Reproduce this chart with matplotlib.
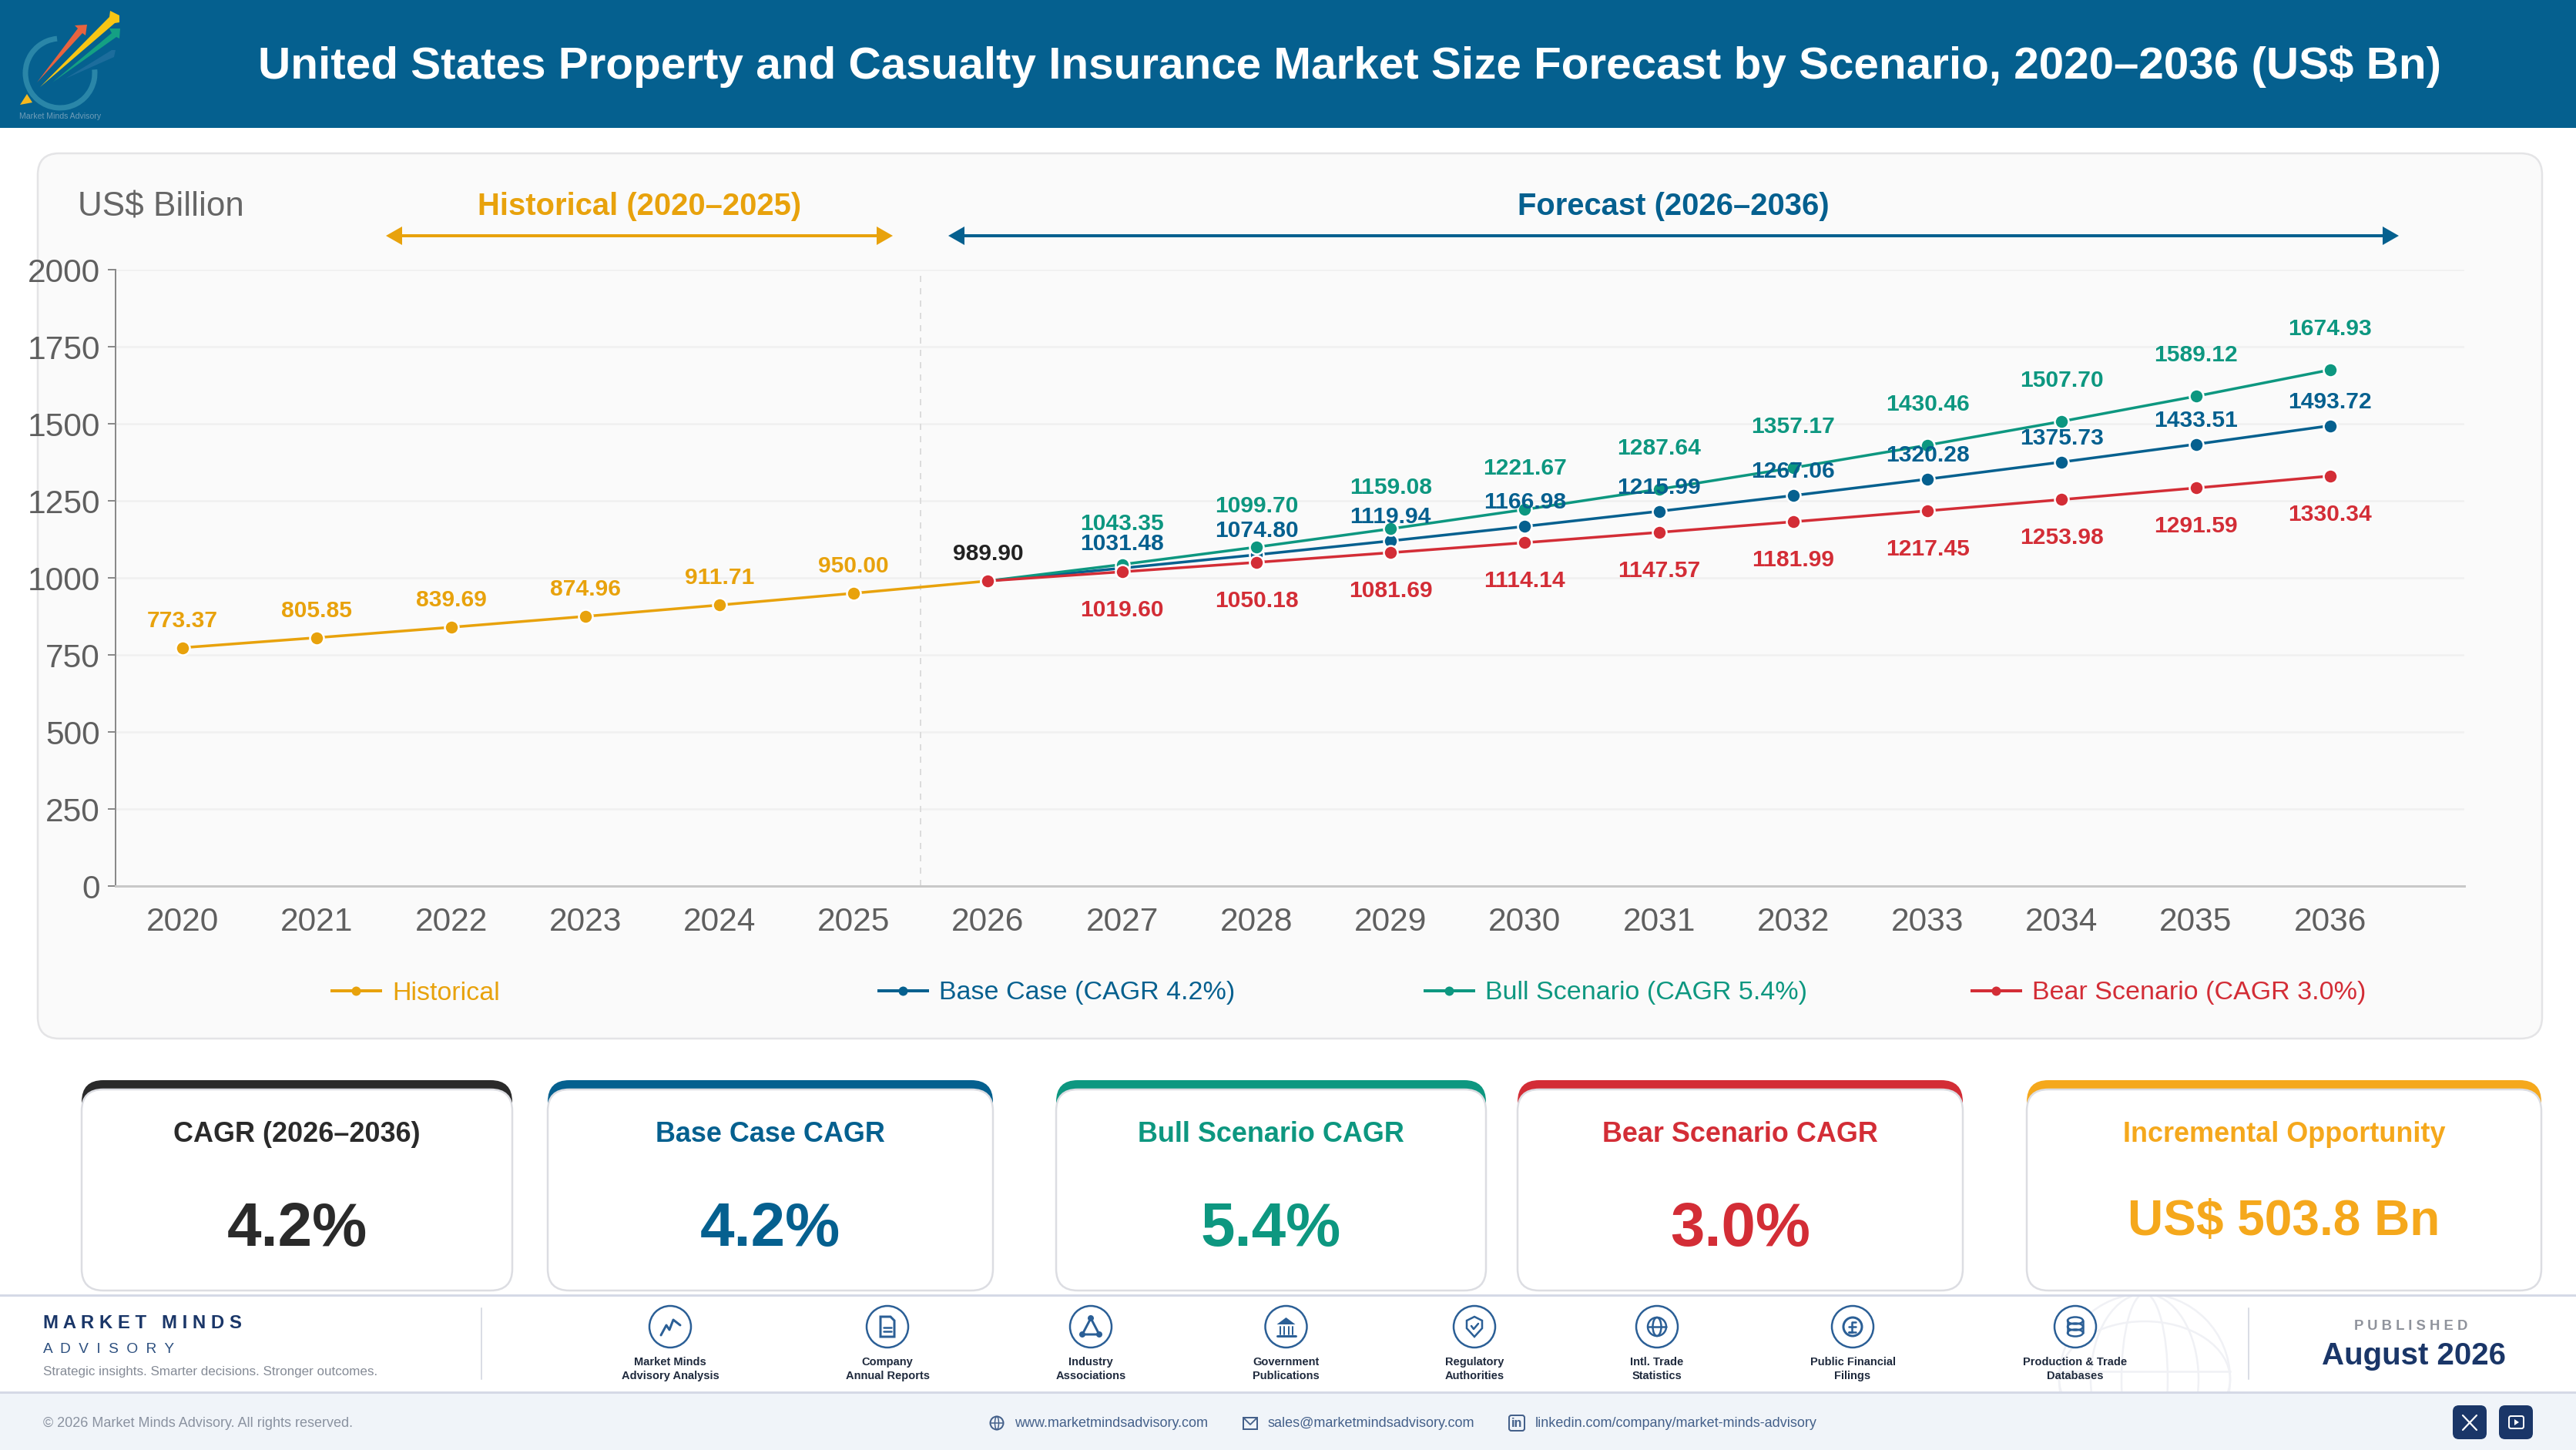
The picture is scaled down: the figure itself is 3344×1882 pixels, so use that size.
import matplotlib
matplotlib.use("Agg")
import matplotlib.pyplot as plt
from matplotlib.patches import FancyBboxPatch, Rectangle, Circle, Polygon, Ellipse, Arc
from matplotlib.lines import Line2D

# ---------- data ----------
years = list(range(2020, 2037))
hist_years = [2020, 2021, 2022, 2023, 2024, 2025, 2026]
hist_values = [773.37, 805.85, 839.69, 874.96, 911.71, 950.00, 989.90]
fc_years = list(range(2026, 2037))
base_values = [989.90, 1031.48, 1074.80, 1119.94, 1166.98, 1215.99, 1267.06, 1320.28, 1375.73, 1433.51, 1493.72]
bull_values = [989.90, 1043.35, 1099.70, 1159.08, 1221.67, 1287.64, 1357.17, 1430.46, 1507.70, 1589.12, 1674.93]
bear_values = [989.90, 1019.60, 1050.18, 1081.69, 1114.14, 1147.57, 1181.99, 1217.45, 1253.98, 1291.59, 1330.34]
y_ticks = [0, 250, 500, 750, 1000, 1250, 1500, 1750, 2000]
legend_labels = ["Historical", "Base Case (CAGR 4.2%)", "Bull Scenario (CAGR 5.4%)", "Bear Scenario (CAGR 3.0%)"]
card_titles = ["CAGR (2026–2036)", "Base Case CAGR", "Bull Scenario CAGR", "Bear Scenario CAGR", "Incremental Opportunity"]
card_values = ["4.2%", "4.2%", "5.4%", "3.0%", "US$ 503.8 Bn"]
source_labels = ["Market Minds\nAdvisory Analysis", "Company\nAnnual Reports", "Industry\nAssociations",
                 "Government\nPublications", "Regulatory\nAuthorities", "Intl. Trade\nStatistics",
                 "Public Financial\nFilings", "Production & Trade\nDatabases"]

# ---------- style ----------
W, H = 3344, 1882
BLUE, GREEN, RED, GOLD = "#05608f", "#0d9780", "#d32d36", "#e8a20c"
CARD_GOLD = "#f5a81c"
NAVY = "#1a3668"
ICON = "#2b5f96"
plt.rcParams["font.family"] = ["Liberation Sans", "DejaVu Sans"]
DPI = 100
def px(p):
    return p * 72 / DPI

fig = plt.figure(figsize=(W / DPI, H / DPI), dpi=DPI, facecolor="white")
bg = fig.add_axes([0, 0, 1, 1], zorder=0)
bg.set_xlim(0, W); bg.set_ylim(H, 0); bg.axis("off")

def rrect(x0, y0, x1, y1, r, fc, ec="none", lw=0, z=1, a=None):
    p = FancyBboxPatch((x0 + r, y0 + r), x1 - x0 - 2 * r, y1 - y0 - 2 * r,
                       boxstyle=f"round,pad={r},rounding_size={r}", fc=fc, ec=ec, lw=lw, zorder=z, alpha=a)
    bg.add_patch(p)
    return p

def txt(x, y, s, size, color, weight="normal", ha="center", va="center", z=5, **kw):
    return bg.text(x, y, s, fontsize=px(size), color=color, fontweight=weight, ha=ha, va=va, zorder=z, **kw)

# header
bg.add_patch(Rectangle((0, 0), W, 166, fc=BLUE, ec="none", zorder=1))
txt(1752, 86, "United States Property and Casualty Insurance Market Size Forecast by Scenario, 2020–2036 (US$ Bn)",
    58.4, "white", "bold")

# logo
bg.add_patch(Arc((78, 95), 90, 90, theta1=-6, theta2=265, ec="#2a86a8", lw=px(7), zorder=2))
bg.add_patch(Polygon([[85, 102], [145, 65], [150, 65], [148, 74]], fc="#1c6d9c", ec="none", zorder=3))
bg.add_patch(Polygon([[68, 107], [145, 43], [142, 37], [156, 37], [155, 50], [151, 48]], fc="#14a083", ec="none", zorder=3))
bg.add_patch(Polygon([[48, 107], [101, 37], [97, 33], [113, 32], [111, 46], [107, 43]], fc="#e8633f", ec="none", zorder=4))
bg.add_patch(Polygon([[52, 113], [142, 22], [143, 14], [155, 20], [155, 29], [149, 30]], fc="#f8c614", ec="none", zorder=4))
bg.add_patch(Polygon([[35, 122], [26, 136], [42, 133]], fc="#f5b81e", ec="none", zorder=4))
txt(78, 151, "Market Minds Advisory", 10.5, "#6f9db8")

# chart panel
rrect(49, 199, 3300, 1348, 28, "#fafafa", "#e4e4e6", px(2.5), z=1)
txt(101, 269, "US$ Billion", 44, "#666666", ha="left")
txt(830, 268, "Historical (2020–2025)", 40, GOLD, "bold")
txt(2172, 268, "Forecast (2026–2036)", 40, BLUE, "bold")
for x0, x1, c in [(501, 1159, GOLD), (1231, 3114, BLUE)]:
    bg.add_line(Line2D([x0 + 10, x1 - 10], [306, 306], color=c, lw=px(4), zorder=3))
    bg.add_patch(Polygon([[x0, 306], [x0 + 21, 294], [x0 + 21, 318]], fc=c, ec="none", zorder=3))
    bg.add_patch(Polygon([[x1, 306], [x1 - 21, 294], [x1 - 21, 318]], fc=c, ec="none", zorder=3))

# chart
ax = fig.add_axes([150 / W, 1 - 1150 / H, (3199 - 150) / W, 800 / H], zorder=1)
ax.patch.set_visible(False)
ax.set_xlim(2019.5, 2037)
ax.set_ylim(0, 2000)
ax.set_xticks(years)
ax.set_xticklabels([str(y) for y in years])
ax.set_yticks(y_ticks)
ax.tick_params(axis="x", length=0, pad=px(27), labelsize=px(42.5), labelcolor="#5f5f5f")
ax.tick_params(axis="y", length=px(10), width=px(2), color="#8a8a8a", pad=px(10), labelsize=px(42.5), labelcolor="#5f5f5f")
ax.grid(axis="y", color="#f0f0f0", lw=px(2.5), zorder=0)
ax.set_axisbelow(True)
for s in ("top", "right"):
    ax.spines[s].set_visible(False)
ax.spines["left"].set_color("#8a8a8a"); ax.spines["left"].set_linewidth(px(2))
ax.spines["bottom"].set_color("#c8c8c8"); ax.spines["bottom"].set_linewidth(px(3))
ax.axvline(2025.5, color="#dcdcdc", lw=px(2), ls=(0, (4, 4)), zorder=1)

def series(xs, ys, c, z):
    return ax.plot(xs, ys, color=c, lw=px(3.5), marker="o", ms=px(18), mec="white", mew=px(2.5), zorder=z)[0]

series(hist_years, hist_values, GOLD, 3)
series(fc_years, base_values, BLUE, 4)
series(fc_years, bull_values, GREEN, 5)
series(fc_years, bear_values, RED, 6)

def labels(xs, ys, c, off, colors=None):
    for i, (x, y) in enumerate(zip(xs, ys)):
        ax.annotate(f"{y:.2f}", (x, y), xytext=(0, -px(off)), textcoords="offset points", ha="center", va="center",
                    fontsize=px(30), fontweight="bold", color=colors[i] if colors else c, zorder=8)

labels(hist_years, hist_values, GOLD, -35, [GOLD] * 6 + ["#222222"])
labels(fc_years[1:], base_values[1:], BLUE, -31)
labels(fc_years[1:], bull_values[1:], GREEN, -53)
labels(fc_years[1:], bear_values[1:], RED, 50)

# legend (one entry per evenly spaced slot)
for lab, c, x in zip(legend_labels, [GOLD, BLUE, GREEN, RED], [431, 1141, 1850, 2560]):
    h = Line2D([], [], color=c, lw=px(4), marker="o", ms=px(12), mew=0)
    fig.legend([h], [lab], loc="center left", bbox_to_anchor=(x / W, 1 - 1289 / H), frameon=False,
               labelcolor=c, fontsize=px(34), handlelength=1.85, handletextpad=0.45, borderpad=0, borderaxespad=0)

# KPI cards
cards = [(106, 665, "#2a2a2a"), (711, 1289, BLUE), (1371, 1929, GREEN), (1970, 2548, RED), (2631, 3299, CARD_GOLD)]
for (x0, x1, c), t, v in zip(cards, card_titles, card_values):
    y0, y1 = 1402, 1675
    rrect(x0, y0, x1, y0 + 120, 28, c, z=2)
    rrect(x0, y0 + 12, x1, y1, 28, "white", "#dcdde2", px(2.5), z=3)
    cx = (x0 + x1) / 2
    txt(cx, 1473, t, 36, c, "bold")
    if len(v) > 5:
        txt(cx, 1586, v, 64, c, "bold")
    else:
        txt(cx, 1596, v, 80, c, "bold")

# footer
bg.add_patch(Rectangle((0, 1681), W, 126, fc="white", ec="none", zorder=1))
bg.add_patch(Rectangle((0, 1807), W, 75, fc="#f0f4f9", ec="none", zorder=1))
clip = Rectangle((2600, 1682), 400, 124, transform=bg.transData)
for e in [Ellipse((2784, 1790), 222, 222), Ellipse((2784, 1790), 140, 222), Ellipse((2784, 1790), 60, 222),
          Ellipse((2784, 1790), 222, 150)]:
    e.set(fc="none", ec="#f0f1f5", lw=px(2.5), zorder=2)
    bg.add_patch(e); e.set_clip_path(clip)
bg.add_line(Line2D([2673, 2895], [1780, 1780], color="#f0f1f5", lw=px(2.5), zorder=2))
for y in (1681, 1807):
    bg.add_line(Line2D([0, W], [y, y], color="#d5d9e6", lw=px(3), zorder=3))
for x in (625, 2919):
    bg.add_line(Line2D([x, x], [1698, 1790], color="#cfd3dd", lw=px(1.5), zorder=3))

txt(56, 1718, "M A R K E T   M I N D S", 24, NAVY, "bold", ha="left")
txt(56, 1751, "A  D  V  I  S  O  R  Y", 19, "#2c4f7f", ha="left")
txt(56, 1780, "Strategic insights. Smarter decisions. Stronger outcomes.", 17, "#858b96", ha="left")
txt(56, 1847, "© 2026 Market Minds Advisory. All rights reserved.", 18, "#8a92a0", ha="left")
txt(3130, 1721, "P U B L I S H E D", 18.5, "#8f939c", "bold")
txt(3133, 1760, "August 2026", 40.2, NAVY, "bold")

def ln(xs, ys, lw=3, c=ICON, z=6):
    bg.add_line(Line2D(xs, ys, color=c, lw=px(lw), zorder=z, solid_capstyle="round", solid_joinstyle="round"))

def draw_icon(i, x, y):
    if i == 0:
        ln([x - 12, x - 5, x - 1, x + 4, x + 13], [y + 11, y - 2, y + 4, y - 9, y - 2])
    elif i == 1:
        bg.add_patch(Polygon([[x - 9, y - 13], [x + 4, y - 13], [x + 9, y - 8], [x + 9, y + 13], [x - 9, y + 13]],
                             fc="none", ec=ICON, lw=px(3), zorder=6))
        ln([x - 5, x + 5], [y + 1, y + 1], 2.5); ln([x - 5, x + 5], [y + 6, y + 6], 2.5)
    elif i == 2:
        bg.add_patch(Polygon([[x, y - 11], [x - 11, y + 10], [x + 11, y + 10]], fc="none", ec=ICON, lw=px(3), zorder=6))
        for a, b in [(x, y - 11), (x - 11, y + 10), (x + 11, y + 10)]:
            bg.add_patch(Circle((a, b), 4, fc=ICON, ec="none", zorder=7))
    elif i == 3:
        bg.add_patch(Polygon([[x, y - 12], [x - 12, y - 3], [x + 12, y - 3]], fc=ICON, ec="none", zorder=6))
        for d in (-8, -3, 3, 8):
            ln([x + d, x + d], [y, y + 10], 2)
        ln([x - 12, x + 12], [y + 12, y + 12], 3)
    elif i == 4:
        bg.add_patch(Polygon([[x, y - 13], [x + 10, y - 8], [x + 10, y + 2], [x, y + 13], [x - 10, y + 2], [x - 10, y - 8]],
                             fc="none", ec=ICON, lw=px(2.5), zorder=6))
        ln([x - 4, x - 1, x + 5], [y - 1, y + 3, y - 4], 2.5)
    elif i == 5:
        bg.add_patch(Circle((x, y), 12, fc="none", ec=ICON, lw=px(2.5), zorder=6))
        bg.add_patch(Ellipse((x, y), 11, 24, fc="none", ec=ICON, lw=px(2.5), zorder=6))
        ln([x - 12, x + 12], [y, y], 2.5)
    elif i == 6:
        bg.add_patch(Circle((x, y), 12, fc="none", ec=ICON, lw=px(3), zorder=6))
        ln([x + 4, x - 1, x - 1, x - 5, x + 4], [y - 6, y - 6, y + 7, y + 7, y + 7], 2.5)
        ln([x - 5, x + 4], [y, y], 2.5)
    else:
        for d in (-8, 0, 8):
            bg.add_patch(Ellipse((x, y + d), 20, 9, fc="none", ec=ICON, lw=px(2.5), zorder=6))
        ln([x - 10, x - 10], [y - 8, y + 8], 2.5); ln([x + 10, x + 10], [y - 8, y + 8], 2.5)

icon_x = [870, 1152, 1416, 1669.5, 1914, 2151, 2405, 2694]
for i, (x, lab) in enumerate(zip(icon_x, source_labels)):
    bg.add_patch(Circle((x, 1722), 27, fc="white", ec=ICON, lw=px(2.5), zorder=5))
    draw_icon(i, x, 1722)
    a, b = lab.split("\n")
    txt(x, 1768, a, 14.6, "#1f2a3d", "bold", z=6)
    txt(x, 1786, b, 14.6, "#1f2a3d", "bold", z=6)

# contacts
CT = "#44608a"
txt(1317, 1848, "www.marketmindsadvisory.com", 18, CT, ha="left")
txt(1646, 1848, "sales@marketmindsadvisory.com", 18, CT, ha="left")
txt(1993, 1848, "linkedin.com/company/market-minds-advisory", 18, CT, ha="left")
bg.add_patch(Circle((1294, 1847), 8.5, fc="none", ec=CT, lw=px(2), zorder=5))
bg.add_patch(Ellipse((1294, 1847), 5, 17, fc="none", ec=CT, lw=px(1.5), zorder=5))
ln([1286, 1302], [1847, 1847], 1.5, CT)
bg.add_patch(Rectangle((1614, 1840), 18, 15, fc="none", ec=CT, lw=px(2), zorder=5))
ln([1614, 1623, 1632], [1840, 1849, 1840], 1.8, CT)
rrect(1959, 1837, 1979, 1857, 3, "none", CT, px(2), z=5)
txt(1969, 1847, "in", 16, CT, "bold")
rrect(3184, 1824, 3228, 1868, 8, NAVY, z=5)
rrect(3244, 1824, 3288, 1868, 8, NAVY, z=5)
ln([3197, 3215], [1837, 1856], 2.2, "white"); ln([3215, 3197], [1837, 1856], 2.2, "white")
rrect(3257, 1838, 3276, 1854, 2.5, "none", "white", px(2), z=6)
bg.add_patch(Polygon([[3264, 1842], [3264, 1850], [3270, 1846]], fc="white", ec="none", zorder=6))

fig.savefig("out.png", dpi=DPI, facecolor="white")
